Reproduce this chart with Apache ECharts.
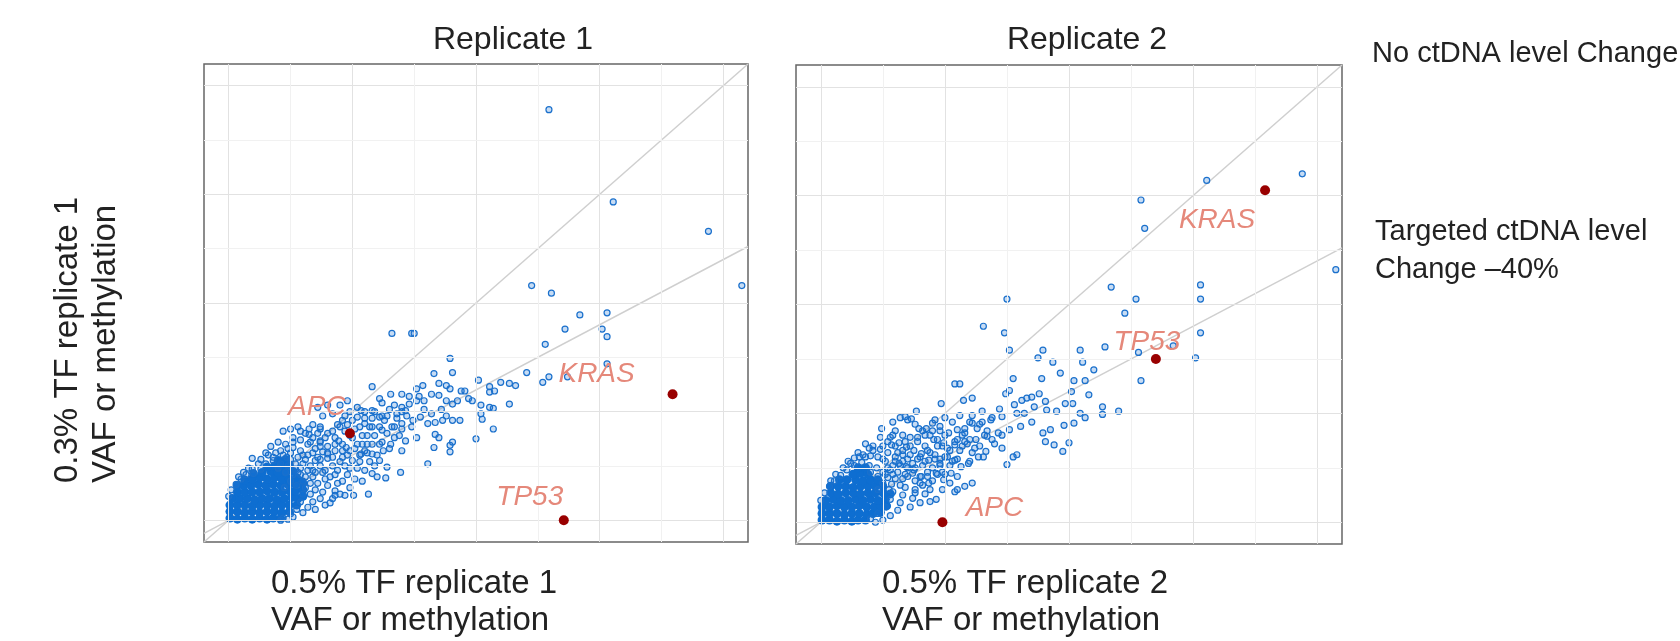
<!DOCTYPE html>
<html>
<head>
<meta charset="utf-8">
<script src="https://cdn.jsdelivr.net/npm/echarts@6/dist/echarts.min.js"></script>
<style>
  html, body { margin: 0; padding: 0; background: #fff; }
  #chart { width: 1680px; height: 641px; }
</style>
</head>
<body>
<div id="chart"></div>
<script>
// axis range (ggplot-style 5% expansion around 0..4) and ticks
const axisRange = [-0.2, 4.2];
const majorTicks = [0, 1, 2, 3, 4];
const minorTicks = [0.5, 1.5, 2.5, 3.5];
// y = x (no change) and y = 0.6x (-40%)
const refSlopes = [1, 0.6];

const geneNames = ['APC', 'TP53', 'KRAS'];
const rep1Genes = [[0.98, 0.80], [2.71, 0.00], [3.59, 1.16]];
const rep2Genes = [[0.98, 0.00], [2.70, 1.50], [3.58, 3.05]];

// saturated cloud near the origin
const rep1Core = [
  [0.01,0.02],[0.07,0.01],[0.13,0.02],[0.19,0.01],[0.25,0.02],[0.31,0.01],[0.36,0.02],[0.42,0.02],
  [0.01,0.08],[0.07,0.08],[0.13,0.07],[0.19,0.08],[0.25,0.07],[0.31,0.08],[0.37,0.08],[0.43,0.07],[0.49,0.08],
  [0.01,0.14],[0.07,0.14],[0.13,0.14],[0.19,0.13],[0.25,0.14],[0.31,0.14],[0.37,0.13],[0.43,0.14],[0.49,0.14],[0.55,0.14],
  [0.03,0.20],[0.09,0.20],[0.15,0.20],[0.21,0.19],[0.27,0.20],[0.33,0.20],[0.39,0.19],[0.45,0.20],[0.51,0.21],[0.56,0.20],[0.60,0.22],
  [0.07,0.26],[0.13,0.26],[0.19,0.26],[0.25,0.26],[0.31,0.27],[0.37,0.26],[0.43,0.26],[0.49,0.27],[0.54,0.27],[0.60,0.28],
  [0.07,0.32],[0.12,0.32],[0.18,0.32],[0.24,0.33],[0.30,0.32],[0.36,0.33],[0.42,0.32],[0.48,0.33],[0.54,0.33],[0.60,0.34],
  [0.13,0.37],[0.19,0.38],[0.25,0.39],[0.31,0.38],[0.37,0.39],[0.43,0.38],[0.49,0.38],[0.55,0.39],
  [0.20,0.43],[0.27,0.44],[0.34,0.45],[0.40,0.44],[0.46,0.44],[0.52,0.45],
  [0.31,0.49],[0.37,0.50],[0.43,0.50],[0.49,0.51],[0.40,0.55],[0.46,0.56]
];
const rep2Core = [
  [0.01,0.02],[0.07,0.02],[0.13,0.01],[0.19,0.02],[0.25,0.01],[0.30,0.02],[0.36,0.02],
  [0.01,0.08],[0.07,0.08],[0.13,0.08],[0.19,0.07],[0.25,0.08],[0.31,0.08],[0.37,0.07],[0.42,0.08],[0.48,0.09],
  [0.01,0.14],[0.07,0.14],[0.13,0.15],[0.19,0.14],[0.25,0.14],[0.31,0.15],[0.37,0.14],[0.43,0.14],[0.48,0.15],[0.53,0.15],
  [0.04,0.20],[0.10,0.21],[0.16,0.20],[0.22,0.20],[0.28,0.21],[0.34,0.20],[0.40,0.21],[0.46,0.20],[0.52,0.21],
  [0.08,0.27],[0.14,0.26],[0.20,0.27],[0.26,0.27],[0.32,0.26],[0.38,0.27],[0.44,0.27],[0.50,0.27],[0.56,0.26],
  [0.08,0.33],[0.14,0.33],[0.20,0.33],[0.26,0.32],[0.32,0.33],[0.38,0.33],[0.44,0.33],[0.50,0.33],
  [0.15,0.39],[0.21,0.39],[0.28,0.39],[0.34,0.38],[0.40,0.39],[0.46,0.39],
  [0.26,0.44],[0.32,0.45],[0.38,0.44],[0.30,0.50],[0.36,0.50]
];

// individual features (hollow rings)
const rep1Points = [
  [0.00,0.22],[0.02,0.28],[0.06,0.33],[0.10,0.38],[0.14,0.42],[0.19,0.47],[0.19,0.57],[0.26,0.47],[0.20,0.43],
  [0.30,0.52],[0.36,0.55],[0.42,0.52],[0.48,0.50],[0.54,0.47],[0.58,0.42],[0.60,0.36],[0.62,0.30],[0.60,0.24],
  [0.58,0.17],[0.55,0.10],[0.50,0.06],[0.44,0.02],[0.42,0.00],[0.48,0.01],[0.52,0.03],[0.60,0.07],[0.64,0.12],
  [0.68,0.17],[0.66,0.24],[0.70,0.28],[0.72,0.34],[0.68,0.40],[0.64,0.46],[0.60,0.52],[0.56,0.58],[0.50,0.62],
  [0.44,0.60],[0.38,0.62],[0.32,0.60],[0.26,0.56],[0.47,0.58],[0.52,0.67],[0.58,0.64],[0.64,0.60],[0.70,0.55],
  [0.74,0.50],[0.76,0.44],[0.78,0.38],[0.80,0.32],[0.76,0.26],[0.74,0.20],[0.70,0.10],[0.78,0.14],[0.84,0.20],
  [0.86,0.27],[0.88,0.34],[0.86,0.42],[0.84,0.50],[0.80,0.57],[0.76,0.63],[0.70,0.66],[0.64,0.70],[0.58,0.74],
  [0.52,0.76],[0.46,0.70],[0.40,0.72],[0.34,0.68],[0.62,0.80],[0.68,0.76],[0.74,0.72],[0.80,0.68],[0.86,0.64],
  [0.92,0.58],[0.94,0.50],[0.96,0.42],[0.92,0.36],[0.98,0.30],[0.90,0.24],[1.02,0.38],[1.04,0.48],[1.00,0.55],
  [1.06,0.60],[0.98,0.64],[0.92,0.70],[0.86,0.76],[0.80,0.80],[0.74,0.84],[0.68,0.88],[0.56,0.86],[0.50,0.84],
  [0.44,0.82],[0.88,0.88],[0.94,0.82],[1.00,0.76],[1.08,0.70],[1.12,0.62],[1.14,0.54],[1.10,0.46],[1.18,0.50],
  [1.20,0.60],[1.16,0.70],[1.12,0.78],[1.06,0.86],[1.00,0.92],[0.94,0.96],[0.84,0.98],[0.76,0.96],[1.24,0.72],
  [1.28,0.80],[1.22,0.86],[1.16,0.94],[1.10,1.00],[0.72,1.04],[0.80,1.06],[0.90,1.06],[1.30,0.66],[1.34,0.76],
  [1.40,0.84],[1.36,0.94],[1.30,1.02],[1.24,1.08],[0.96,1.10],[1.20,0.40],[1.08,0.36],
  [0.45,0.30],[0.50,0.36],[0.55,0.32],[0.52,0.42],[0.58,0.48],[0.62,0.40],[0.66,0.34],[0.70,0.44],[0.66,0.50],
  [0.72,0.58],[0.78,0.46],[0.82,0.40],[0.84,0.58],[0.88,0.46],[0.90,0.54],[0.92,0.64],[0.96,0.60],[0.98,0.48],
  [1.02,0.66],[1.06,0.54],[1.08,0.78],[1.12,0.70],[1.14,0.86],[1.18,0.78],[1.22,0.70],[1.26,0.92],[1.32,0.86],
  [1.38,0.78],[1.44,0.96],[1.48,0.86],[0.62,0.56],[0.68,0.62],[0.74,0.68],[0.78,0.76],[0.84,0.82],[0.90,0.86],
  [0.96,0.88],[1.02,0.84],[0.98,0.78],[0.86,0.70],[0.80,0.62],[0.74,0.56],[0.68,0.46],[0.56,0.44],[0.50,0.56],
  [0.42,0.64],[0.36,0.58],[0.30,0.62],[0.24,0.52],[0.16,0.48],[0.12,0.44],[0.08,0.40],[0.40,0.48],[0.46,0.44],
  [0.54,0.52],[0.60,0.60],[0.66,0.72],[0.72,0.80],[0.58,0.82],[0.52,0.72],[0.48,0.66],[1.10,0.94],[1.04,1.04],
  [0.98,1.00],[0.92,0.92],[1.18,1.00],[1.24,0.96],[1.34,1.06],[1.40,1.00],[1.46,1.14],[1.54,1.14],[1.58,1.02],
  [1.64,0.98],[1.72,1.02],[1.76,0.96],
  [1.16,1.23],[1.31,1.16],[1.22,1.12],[1.40,1.16],[1.52,1.21],[1.57,1.24],[1.70,1.26],[1.76,1.24],[1.79,1.21],
  [1.88,1.19],[1.91,1.19],[1.94,1.12],[1.97,1.10],[2.04,1.06],[2.11,1.04],[2.14,1.03],[2.04,0.98],[2.05,0.93],
  [1.85,1.10],[1.81,1.07],[1.76,1.10],[1.70,1.15],[1.64,1.16],[1.58,1.10],[1.52,1.10],[1.46,1.07],[1.40,1.04],
  [1.43,1.01],[1.36,0.98],[1.28,0.96],[1.22,0.95],[1.16,1.01],[1.07,1.01],[1.04,0.95],[1.10,0.89],[1.16,0.86],
  [1.24,0.83],[1.34,0.86],[1.40,0.89],[1.49,0.92],[1.55,0.95],[1.61,0.89],[1.67,0.90],[1.73,0.92],[1.81,0.92],
  [1.87,0.92],[1.67,0.79],[1.70,0.76],[1.81,0.72],[1.52,0.76],[1.43,0.73],[1.40,0.64],[1.31,0.70],[1.25,0.64],
  [1.16,0.61],[1.10,0.64],[1.04,0.70],[0.95,0.67],[0.89,0.73],[0.80,0.61],[0.74,0.73],[0.65,0.79],[0.74,0.86],
  [1.07,0.61],[1.22,0.55],[1.28,0.49],[1.16,0.43],[1.27,0.39],[0.65,0.84],
  [2.59,3.78],[3.11,2.93],[3.88,2.66],[4.15,2.16],[2.45,2.16],[2.61,2.09],[2.84,1.89],[3.06,1.91],[2.72,1.76],
  [3.02,1.76],[3.06,1.69],[2.56,1.62],[3.06,1.44],[2.59,1.32],[2.54,1.27],[2.41,1.36],[2.74,1.32],[1.32,1.72],
  [1.48,1.72],[1.50,1.72],[1.79,1.49],[1.81,1.36],[1.66,1.35],[2.02,1.29],[2.20,1.27],[2.27,1.26],[2.32,1.24],
  [2.11,1.23],[2.15,1.19],[2.11,1.18],[2.27,1.07],[2.14,0.84],[2.00,0.75],[1.79,0.69],[1.79,0.63],[1.66,0.67],
  [1.61,0.52],[1.39,0.44],[1.13,0.24],[1.01,0.23],[0.94,0.23],[0.86,0.23],[0.82,0.16]
];
const rep2Points = [
  [0.00,0.20],[0.03,0.27],[0.07,0.33],[0.11,0.38],[0.16,0.43],[0.21,0.48],[0.27,0.52],[0.33,0.55],[0.39,0.52],
  [0.45,0.50],[0.50,0.46],[0.54,0.41],[0.57,0.35],[0.58,0.28],[0.56,0.21],[0.52,0.14],[0.46,0.08],[0.40,0.03],
  [0.44,0.00],[0.50,0.02],[0.56,0.06],[0.62,0.11],[0.64,0.18],[0.66,0.25],[0.68,0.32],[0.66,0.40],[0.62,0.46],
  [0.58,0.52],[0.52,0.56],[0.46,0.60],[0.40,0.61],[0.34,0.62],[0.27,0.59],[0.22,0.56],[0.72,0.14],[0.74,0.22],
  [0.76,0.30],[0.76,0.38],[0.74,0.45],[0.70,0.50],[0.66,0.56],[0.60,0.60],[0.54,0.64],[0.48,0.67],[0.42,0.70],
  [0.36,0.72],[0.80,0.42],[0.82,0.34],[0.84,0.26],[0.80,0.18],[0.88,0.30],[0.90,0.38],[0.86,0.46],[0.82,0.52],
  [0.78,0.58],[0.72,0.62],[0.66,0.66],[0.60,0.70],[0.54,0.74],[0.48,0.78],[0.94,0.44],[0.96,0.52],[0.92,0.58],
  [0.88,0.64],[0.84,0.70],[0.78,0.74],[0.72,0.78],[0.66,0.80],[0.60,0.84],[1.00,0.60],[1.04,0.66],[0.98,0.70],
  [0.94,0.76],[0.88,0.80],[0.82,0.84],[0.76,0.90],[1.08,0.74],[1.12,0.66],[1.10,0.58],[1.04,0.52],[1.00,0.44],
  [1.14,0.80],[1.18,0.72],[1.22,0.64],[1.20,0.56],[0.70,0.94],[0.64,0.96],[0.58,0.92],[1.28,0.70],[1.32,0.80],
  [1.26,0.86],[1.20,0.92],[1.40,0.72],[1.46,0.80],[0.98,0.30],[1.04,0.36],
  [0.46,0.30],[0.50,0.36],[0.55,0.30],[0.52,0.44],[0.56,0.48],[0.60,0.40],[0.64,0.34],[0.70,0.42],[0.64,0.52],
  [0.70,0.58],[0.76,0.50],[0.80,0.36],[0.84,0.56],[0.86,0.42],[0.90,0.50],[0.92,0.62],[0.96,0.58],[0.98,0.46],
  [1.02,0.68],[1.06,0.56],[1.10,0.76],[1.14,0.70],[1.16,0.82],[1.20,0.76],[1.24,0.68],[1.28,0.90],[1.34,0.84],
  [1.38,0.76],[0.60,0.56],[0.66,0.62],[0.72,0.70],[0.78,0.78],[0.84,0.80],[0.90,0.84],[0.96,0.84],[1.00,0.80],
  [0.94,0.70],[0.86,0.66],[0.80,0.60],[0.74,0.54],[0.68,0.44],[0.58,0.44],[0.50,0.58],[0.42,0.66],[0.36,0.60],
  [0.30,0.64],[0.24,0.54],[0.18,0.50],[0.12,0.44],[0.08,0.38],[0.40,0.46],[0.46,0.42],[0.54,0.50],[0.62,0.64],
  [0.68,0.74],[0.56,0.78],[0.50,0.70],[1.06,0.92],[1.00,0.96],[0.92,0.94],[1.12,0.98],[1.22,0.98],[1.30,1.02],
  [1.38,0.96],[1.44,1.04],[1.56,1.08],[1.62,1.12],[1.72,1.06],
  [1.49,1.18],[1.52,1.21],[1.66,1.14],[1.70,1.15],[1.76,1.18],[1.81,1.11],[1.82,1.03],[1.90,1.02],[1.97,1.09],
  [2.03,1.09],[2.09,1.00],[1.58,1.00],[1.46,0.97],[1.37,0.94],[1.30,0.92],[1.22,0.91],[1.16,0.86],[1.10,0.85],
  [1.03,0.82],[0.96,0.88],[0.90,0.91],[0.85,0.86],[0.79,0.86],[0.91,0.76],[0.99,0.73],[1.08,0.71],[1.16,0.74],
  [1.25,0.76],[1.34,0.79],[1.43,0.82],[1.52,0.85],[1.61,0.88],[1.70,0.92],[1.64,1.00],[1.27,0.60],[1.19,0.54],
  [1.13,0.51],[1.08,0.57],[1.02,0.60],[0.96,0.54],[0.87,0.57],[0.81,0.63],[0.75,0.66],[0.69,0.69],[0.63,0.73],
  [0.57,0.71],[0.93,0.45],[0.99,0.39],[0.87,0.36],[0.81,0.42],[0.75,0.48],[0.69,0.51],[0.63,0.54],[1.05,0.45],
  [1.10,0.42],
  [3.88,3.20],[3.11,3.14],[2.58,2.96],[2.61,2.70],[4.15,2.32],[2.34,2.16],[1.50,2.05],[2.54,2.05],[3.06,2.18],
  [3.06,2.05],[2.45,1.92],[3.06,1.74],[1.31,1.80],[1.48,1.74],[1.52,1.58],[2.29,1.61],[2.56,1.56],[2.84,1.62],
  [3.02,1.51],[2.58,1.30],[1.79,1.58],[2.09,1.58],[1.75,1.51],[1.87,1.47],[2.11,1.47],[2.20,1.40],[1.93,1.37],
  [1.55,1.32],[1.78,1.32],[2.04,1.30],[2.13,1.30],[1.08,1.27],[1.12,1.27],[2.02,1.20],[2.16,1.17],[2.27,1.06],
  [2.27,0.99],[2.40,1.02],[2.13,0.96],[2.04,0.91],[1.96,0.89],[1.85,0.85],[1.79,0.82],[1.81,0.74],[1.88,0.71],
  [2.00,0.73],[1.95,0.65],[1.50,0.53],[1.58,0.62],[1.55,0.60],[1.33,0.65],[1.31,0.60],[1.46,0.68],[1.22,0.36],
  [1.16,0.33],[1.08,0.28],[1.10,0.30],[0.93,0.21],[0.88,0.19],[0.76,0.27],[0.97,1.09],[1.15,1.12],[1.22,1.14],
  [0.77,1.02],[0.68,0.97],[0.73,0.95],[0.49,0.86],[0.58,0.80],[0.39,0.68],[0.31,0.60]
];

// label placement (pixels, relative to the gene dot)
const rep1LabelOffsets = [[-33, -26], [-34, -23], [-76, -20]];
const rep2LabelOffsets = [[52, -14], [-9, -17], [-48, 30]];

const FONT = '"Liberation Sans", Arial, sans-serif';
const ringColor = '#1a70cc';
const coreColor = '#0e6ed1';
const geneLabelColor = '#e5887a';

const chart = echarts.init(document.getElementById('chart'), null, { renderer: 'canvas' });

const grids = [
  { left: 204, top: 64, width: 544, height: 478 },
  { left: 796, top: 65, width: 546, height: 479 }
];

function axis(idx) {
  return {
    gridIndex: idx, type: 'value', min: axisRange[0], max: axisRange[1],
    axisLine: { show: false },
    axisTick: { show: true, customValues: majorTicks, length: 4, lineStyle: { color: '#8a8a8a', width: 1 } },
    axisLabel: { show: false },
    splitLine: { show: false }
  };
}

function gridLines(idx) {
  const major = { color: '#e2e2e2', width: 1, type: 'solid' };
  const minor = { color: '#f1f1f1', width: 1, type: 'solid' };
  const d = [];
  majorTicks.forEach(v => { d.push({ xAxis: v, lineStyle: major }); d.push({ yAxis: v, lineStyle: major }); });
  minorTicks.forEach(v => { d.push({ xAxis: v, lineStyle: minor }); d.push({ yAxis: v, lineStyle: minor }); });
  return {
    type: 'line', xAxisIndex: idx, yAxisIndex: idx, data: [], silent: true, z: 1,
    markLine: { symbol: ['none', 'none'], silent: true, animation: false, label: { show: false }, data: d }
  };
}

function refLines(idx) {
  return refSlopes.map(s => ({
    type: 'line', xAxisIndex: idx, yAxisIndex: idx, silent: true, z: 2,
    symbol: 'none', animation: false,
    lineStyle: { color: '#cfcfcf', width: 1.5 },
    data: [[axisRange[0], axisRange[0] * s], [axisRange[1], axisRange[1] * s]]
  }));
}

function cloud(idx, core, pts) {
  return [
    {
      type: 'scatter', xAxisIndex: idx, yAxisIndex: idx, z: 3, silent: true, animation: false,
      symbolSize: 9, itemStyle: { color: coreColor, opacity: 1 }, data: core
    },
    {
      type: 'scatter', xAxisIndex: idx, yAxisIndex: idx, z: 3, silent: true, animation: false,
      symbolSize: 6,
      itemStyle: { color: 'rgba(30,115,210,0.25)', borderColor: ringColor, borderWidth: 1.2, opacity: 1 },
      data: pts
    }
  ];
}

function genes(idx, vals, offsets) {
  return {
    type: 'scatter', xAxisIndex: idx, yAxisIndex: idx, z: 5, animation: false,
    symbolSize: 10, itemStyle: { color: '#990000', opacity: 1 },
    label: {
      show: true, position: 'inside', formatter: p => geneNames[p.dataIndex],
      fontFamily: FONT, fontStyle: 'italic', fontSize: 28, color: geneLabelColor
    },
    data: vals.map((v, i) => ({ value: v, label: { offset: offsets[i] } }))
  };
}

function text(str, x, y, opts) {
  return Object.assign({
    type: 'text', x: x, y: y, silent: true,
    style: Object.assign({
      text: str, fill: '#222', font: '32px ' + FONT, textAlign: 'left', textVerticalAlign: 'middle'
    }, opts && opts.style)
  }, opts && opts.el);
}

chart.setOption({
  animation: false,
  backgroundColor: '#fff',
  grid: grids.map(g => Object.assign({ show: true, borderColor: '#666', borderWidth: 1.5, backgroundColor: 'transparent' }, g)),
  xAxis: [axis(0), axis(1)],
  yAxis: [axis(0), axis(1)],
  series: [
    gridLines(0), gridLines(1),
    ...refLines(0), ...refLines(1),
    ...cloud(0, rep1Core, rep1Points),
    ...cloud(1, rep2Core, rep2Points),
    genes(0, rep1Genes, rep1LabelOffsets),
    genes(1, rep2Genes, rep2LabelOffsets)
  ],
  graphic: [
    text('Replicate 1', 513, 40, { style: { textAlign: 'center' } }),
    text('Replicate 2', 1087, 40, { style: { textAlign: 'center' } }),
    text('0.5% TF replicate 1', 271, 584, { style: { font: '33px ' + FONT } }),
    text('VAF or methylation', 271, 621, { style: { font: '33px ' + FONT } }),
    text('0.5% TF replicate 2', 882, 584, { style: { font: '33px ' + FONT } }),
    text('VAF or methylation', 882, 621, { style: { font: '33px ' + FONT } }),
    text('0.3% TF replicate 1', 68, 483, { style: { font: '33px ' + FONT }, el: { rotation: Math.PI / 2 } }),
    text('VAF or methylation', 106, 483, { style: { font: '33px ' + FONT }, el: { rotation: Math.PI / 2 } }),
    text('No ctDNA level Change', 1372, 54, { style: { font: '29px ' + FONT } }),
    text('Targeted ctDNA level', 1375, 232, { style: { font: '29px ' + FONT } }),
    text('Change \u201340%', 1375, 270, { style: { font: '29px ' + FONT } })
  ]
});
</script>
</body>
</html>
